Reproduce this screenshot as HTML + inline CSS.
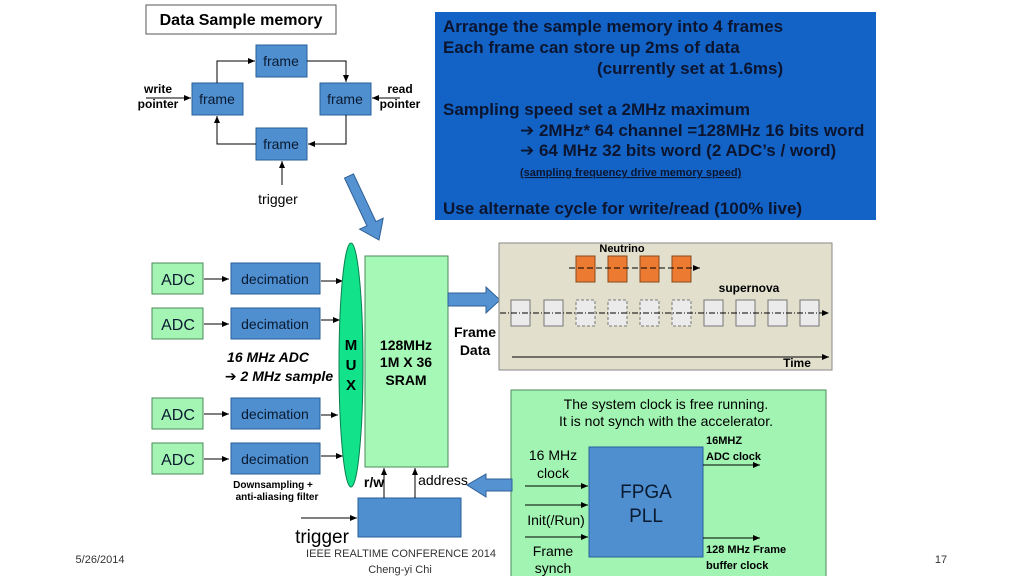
<!DOCTYPE html>
<html><head><meta charset="utf-8"><style>
html,body{margin:0;padding:0;background:#fff;}
svg{display:block;font-family:"Liberation Sans",sans-serif;}
</style></head><body>
<svg width="1024" height="576" viewBox="0 0 1024 576" xmlns="http://www.w3.org/2000/svg">
<defs>
<marker id="ah" markerWidth="8" markerHeight="8" refX="7" refY="4" orient="auto" markerUnits="userSpaceOnUse"><path d="M0,1 L7,4 L0,7 z" fill="#000"/></marker>
</defs>
<rect width="1024" height="576" fill="#fff"/>

<!-- Data sample memory -->
<rect x="146" y="5" width="190" height="29" fill="#fff" stroke="#555" stroke-width="1"/>
<text x="241" y="25" font-size="16" font-weight="bold" text-anchor="middle">Data Sample memory</text>
<g fill="#4f8fd0" stroke="#2a5f9a" stroke-width="1">
<rect x="256" y="45" width="51" height="32"/>
<rect x="192" y="83" width="51" height="32"/>
<rect x="320" y="83" width="51" height="32"/>
<rect x="256" y="128" width="51" height="32"/>
</g>
<g font-size="14" text-anchor="middle" fill="#0a1a30">
<text x="281" y="66">frame</text><text x="217" y="104">frame</text>
<text x="345" y="104">frame</text><text x="281" y="149">frame</text>
</g>
<g stroke="#000" stroke-width="1" fill="none" marker-end="url(#ah)">
<path d="M217,83 V61 H255"/>
<path d="M307,61 H346 V82"/>
<path d="M346,115 V144 H308"/>
<path d="M256,144 H217 V116"/>
<path d="M146,98 H191"/>
<path d="M400,98 H372"/>
<path d="M282,185 V161"/>
</g>
<g font-size="12" font-weight="bold" text-anchor="middle">
<text x="158" y="93">write</text><text x="158" y="108">pointer</text>
<text x="400" y="93">read</text><text x="400" y="108">pointer</text>
</g>
<text x="278" y="204" font-size="14" text-anchor="middle">trigger</text>

<!-- blue panel -->
<rect x="435" y="12" width="441" height="208" fill="#1363c6"/>
<g font-size="17" font-weight="bold" fill="#0b1530">
<text x="443" y="32">Arrange the sample memory into 4 frames</text>
<text x="443" y="53">Each frame can store up 2ms of data</text>
<text x="597" y="74">(currently set at 1.6ms)</text>
<text x="443" y="115">Sampling speed set a 2MHz maximum</text>
<text x="520" y="136"><tspan font-family="DejaVu Sans">➔</tspan> 2MHz* 64 channel =128MHz 16 bits word</text>
<text x="520" y="156"><tspan font-family="DejaVu Sans">➔</tspan> 64 MHz 32 bits word (2 ADC’s / word)</text>
<text x="443" y="214">Use alternate cycle for write/read (100% live)</text>
</g>
<text x="520" y="176" font-size="11" font-weight="bold" fill="#0b1530" text-decoration="underline">(sampling frequency drive memory speed)</text>

<!-- big arrow -->
<polygon points="344.5,178.1 353.5,173.9 375.9,221.6 383.2,218.2 379,240 359.6,229.2 366.9,225.8" fill="#5592d2" stroke="#2f5f95" stroke-width="1"/>

<!-- ADC + decimation -->
<g>
<rect x="152" y="263" width="51" height="31" fill="#a4f4b4" stroke="#4a8a5a"/>
<rect x="152" y="308" width="51" height="31" fill="#a4f4b4" stroke="#4a8a5a"/>
<rect x="152" y="398" width="51" height="31" fill="#a4f4b4" stroke="#4a8a5a"/>
<rect x="152" y="443" width="51" height="31" fill="#a4f4b4" stroke="#4a8a5a"/>
<rect x="231" y="263" width="89" height="31" fill="#4f8fd0" stroke="#2a5f9a"/>
<rect x="231" y="308" width="89" height="31" fill="#4f8fd0" stroke="#2a5f9a"/>
<rect x="231" y="398" width="89" height="31" fill="#4f8fd0" stroke="#2a5f9a"/>
<rect x="231" y="443" width="89" height="31" fill="#4f8fd0" stroke="#2a5f9a"/>
</g>
<g font-size="16" text-anchor="middle" fill="#0a1a30">
<text x="178" y="285">ADC</text><text x="178" y="330">ADC</text>
<text x="178" y="420">ADC</text><text x="178" y="465">ADC</text>
</g>
<g font-size="14" text-anchor="middle" fill="#0a1a30">
<text x="275" y="284">decimation</text><text x="275" y="329">decimation</text>
<text x="275" y="419">decimation</text><text x="275" y="464">decimation</text>
</g>
<g stroke="#000" stroke-width="1" fill="none" marker-end="url(#ah)">
<path d="M204,279 H229"/><path d="M204,324 H229"/><path d="M204,414 H229"/><path d="M204,459 H229"/>
<path d="M321,281 H343"/><path d="M321,320 H340"/><path d="M321,415 H338"/><path d="M321,456 H343"/>
</g>
<text x="268" y="362" font-size="14" font-weight="bold" font-style="italic" text-anchor="middle">16 MHz ADC</text>
<text x="279" y="381" font-size="14" font-weight="bold" font-style="italic" text-anchor="middle"><tspan font-family="DejaVu Sans" font-style="normal">➔</tspan> 2 MHz sample</text>
<text x="273" y="488" font-size="10" font-weight="bold" text-anchor="middle">Downsampling +</text>
<text x="277" y="500" font-size="10" font-weight="bold" text-anchor="middle">anti-aliasing filter</text>

<!-- MUX -->
<ellipse cx="351" cy="365" rx="12" ry="122" fill="#12e28a" stroke="#0a8050"/>
<g font-size="15" font-weight="bold" text-anchor="middle"><text x="351" y="350">M</text><text x="351" y="370">U</text><text x="351" y="390">X</text></g>

<!-- SRAM -->
<rect x="365" y="256" width="83" height="211" fill="#a6f8b6" stroke="#4a8a5a"/>
<g font-size="14" font-weight="bold" text-anchor="middle"><text x="406" y="350">128MHz</text><text x="406" y="367">1M X 36</text><text x="406" y="385">SRAM</text></g>

<!-- Frame data arrow -->
<polygon points="448,293 486,293 486,287 500,300 486,313 486,306 448,306" fill="#5592d2" stroke="#2f5f95"/>
<text x="475" y="337" font-size="14" font-weight="bold" text-anchor="middle">Frame</text>
<text x="475" y="355" font-size="14" font-weight="bold" text-anchor="middle">Data</text>

<!-- timeline panel -->
<rect x="499" y="243" width="333" height="127" fill="#e2dfcd" stroke="#888"/>
<text x="622" y="252" font-size="11" font-weight="bold" text-anchor="middle">Neutrino</text>
<g fill="#ec7a30" stroke="#8a4a20">
<rect x="576" y="256" width="19" height="26"/><rect x="608" y="256" width="19" height="26"/>
<rect x="640" y="256" width="19" height="26"/><rect x="672" y="256" width="19" height="26"/>
</g>
<line x1="569" y1="268" x2="700" y2="268" stroke="#000" stroke-dasharray="6,3" marker-end="url(#ah)"/>
<text x="749" y="292" font-size="12" font-weight="bold" text-anchor="middle">supernova</text>
<g fill="#ebebeb" stroke="#777">
<rect x="511" y="300" width="19" height="26"/><rect x="544" y="300" width="19" height="26"/>
<rect x="576" y="300" width="19" height="26" stroke-dasharray="3,2"/><rect x="608" y="300" width="19" height="26" stroke-dasharray="3,2"/>
<rect x="640" y="300" width="19" height="26" stroke-dasharray="3,2"/><rect x="672" y="300" width="19" height="26" stroke-dasharray="3,2"/>
<rect x="704" y="300" width="19" height="26"/><rect x="736" y="300" width="19" height="26"/>
<rect x="768" y="300" width="19" height="26"/><rect x="800" y="300" width="19" height="26"/>
</g>
<line x1="500" y1="313" x2="829" y2="313" stroke="#000" stroke-dasharray="6,2,1,2" marker-end="url(#ah)"/>
<line x1="512" y1="357" x2="829" y2="357" stroke="#000" marker-end="url(#ah)"/>
<text x="797" y="367" font-size="12" font-weight="bold" text-anchor="middle">Time</text>

<!-- green clock panel -->
<rect x="511" y="390" width="315" height="190" fill="#a2f4b2" stroke="#4a8a5a"/>
<text x="666" y="409" font-size="14" text-anchor="middle">The system clock is free running.</text>
<text x="666" y="426" font-size="14" text-anchor="middle">It is not synch with the accelerator.</text>
<rect x="589" y="447" width="114" height="110" fill="#4f8fd0" stroke="#2a5f9a"/>
<text x="646" y="498" font-size="19" text-anchor="middle" fill="#0a1a30">FPGA</text>
<text x="646" y="522" font-size="19" text-anchor="middle" fill="#0a1a30">PLL</text>
<text x="553" y="460" font-size="14" text-anchor="middle">16 MHz</text>
<text x="553" y="478" font-size="14" text-anchor="middle">clock</text>
<text x="556" y="525" font-size="14" text-anchor="middle">Init(/Run)</text>
<text x="553" y="556" font-size="14" text-anchor="middle">Frame</text>
<text x="553" y="573" font-size="14" text-anchor="middle">synch</text>
<g stroke="#000" stroke-width="1" fill="none" marker-end="url(#ah)">
<path d="M525,486 H588"/><path d="M525,505 H588"/><path d="M525,537 H588"/>
<path d="M703,465 H760"/><path d="M703,538 H760"/>
</g>
<text x="706" y="444" font-size="11" font-weight="bold">16MHZ</text>
<text x="706" y="460" font-size="11" font-weight="bold">ADC clock</text>
<text x="706" y="553" font-size="11" font-weight="bold">128 MHz Frame</text>
<text x="706" y="569" font-size="11" font-weight="bold">buffer clock</text>

<!-- address arrow -->
<polygon points="512,479 486,479 486,474 467,485 486,497 486,491 512,491" fill="#5592d2" stroke="#2f5f95"/>

<!-- control box -->
<rect x="358" y="498" width="103" height="39" fill="#4f8fd0" stroke="#2a5f9a"/>
<g stroke="#000" stroke-width="1" fill="none" marker-end="url(#ah)">
<path d="M384,498 V468"/><path d="M415,498 V468"/><path d="M301,518 H357"/>
</g>
<text x="374" y="487" font-size="14" font-weight="bold" text-anchor="middle">r/w</text>
<text x="443" y="485" font-size="14" text-anchor="middle">address</text>
<text x="322" y="543" font-size="19" text-anchor="middle">trigger</text>

<!-- footer -->
<text x="401" y="557" font-size="11" text-anchor="middle" fill="#333">IEEE REALTIME CONFERENCE 2014</text>
<text x="400" y="573" font-size="11" text-anchor="middle" fill="#333">Cheng-yi Chi</text>
<text x="100" y="563" font-size="11" text-anchor="middle" fill="#333">5/26/2014</text>
<text x="941" y="563" font-size="11" text-anchor="middle" fill="#333">17</text>
</svg>
</body></html>
